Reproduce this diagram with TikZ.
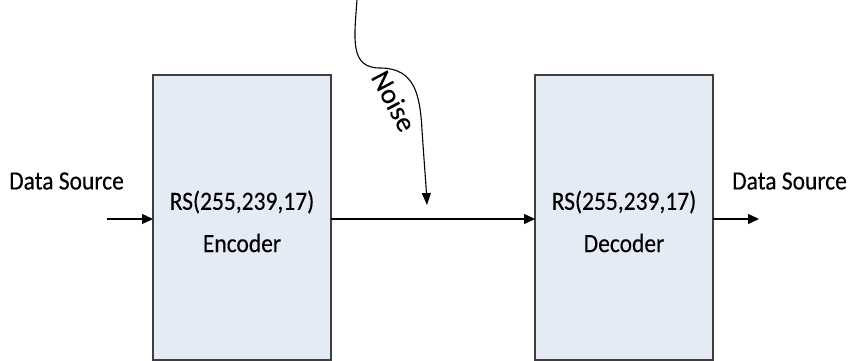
\documentclass[tikz,border=0pt]{standalone}
\usepackage{fontspec}
\setmainfont{Carlito}[FakeBold=0.3]
\usetikzlibrary{arrows.meta}
\definecolor{boxfill}{HTML}{E5EBF5}
\definecolor{boxline}{HTML}{3F3F3F}
\newcommand{\tallText}[1]{\scalebox{1}[1.12]{#1}}
\begin{document}
\begin{tikzpicture}[x=1pt,y=1pt,
  blockbox/.style={draw=boxline,fill=boxfill,line width=1.3pt},
  flow/.style={line width=1.3pt,-{Triangle[length=11pt,width=10pt]}},
  lbl/.style={font=\fontsize{23.5}{28}\selectfont,inner sep=0pt}]
  \useasboundingbox (0,0) rectangle (848,-361);
  % coder blocks
  \draw[blockbox] (153,-75) rectangle (331,-360);
  \draw[blockbox] (535,-75) rectangle (713,-360);
  \coordinate (encW) at (153,-219);
  \coordinate (encE) at (331,-219);
  \coordinate (decW) at (535,-219);
  \coordinate (decE) at (713,-219);
  \coordinate (inS) at (107,-219);
  \coordinate (outE) at (759,-219);
  % block labels
  \node[lbl] (encT1) at (242,-202) {\tallText{RS(255,239,17)}};
  \node[lbl] (encT2) at (242,-243) {\tallText{Encoder}};
  \node[lbl] (decT1) at (624,-202) {\tallText{RS(255,239,17)}};
  \node[lbl] (decT2) at (624,-243) {\tallText{Decoder}};
  \node[lbl,anchor=west] (srcIn) at (9,-181) {\tallText{Data Source}};
  \node[lbl,anchor=west] (srcOut) at (732,-181) {\tallText{Data Source}};
  % signal path
  \draw[flow] (inS) -- (encW);
  \draw[flow] (encE) -- (decW);
  \draw[flow] (decE) -- (outE);
  % noise injected into the channel
  \coordinate (nz0) at (357,0);
  \coordinate (nzTip) at (427,-205);
  \draw[line width=1.1pt,-{Triangle[length=12pt,width=9pt]}]
    (nz0) .. controls (354,-40) and (350,-68) .. (380,-68)
    .. controls (415,-68) and (420,-95) .. (422,-130)
    .. controls (424,-160) and (426,-185) .. (nzTip);
  \node[lbl,font=\fontsize{28}{32}\selectfont,rotate=-62] (noise) at (394,-101) {Noise};
\end{tikzpicture}
\end{document}
